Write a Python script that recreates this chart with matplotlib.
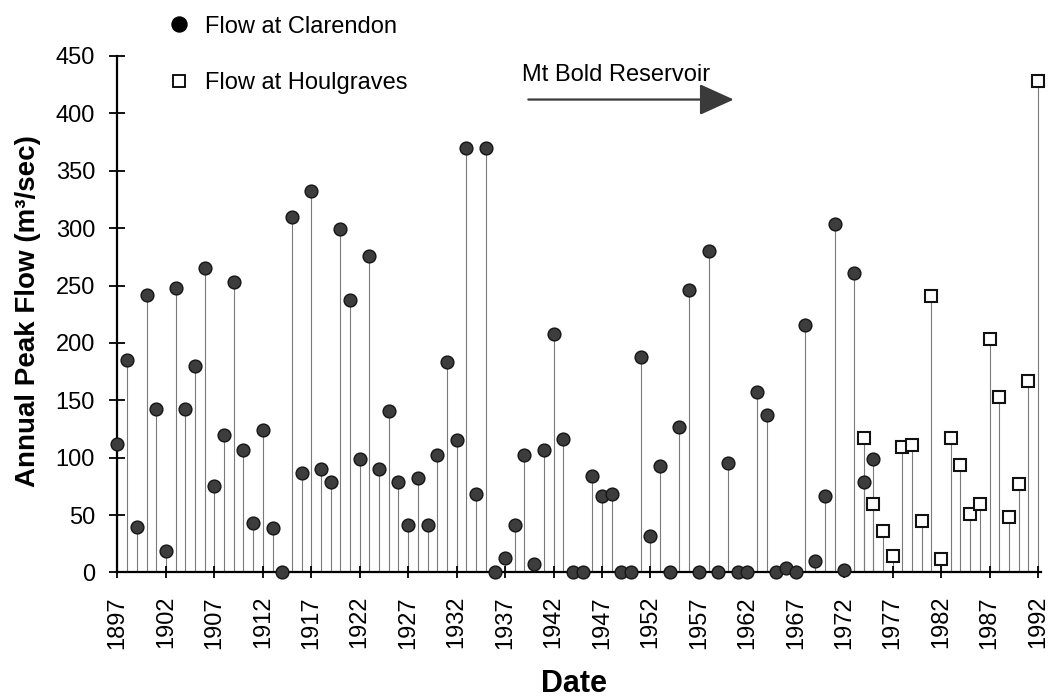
import matplotlib
matplotlib.use("Agg")
import matplotlib.pyplot as plt
from matplotlib.lines import Line2D

plt.rcParams["font.family"] = ["Liberation Sans", "DejaVu Sans"]

# Annual peak flow at Clarendon (m3/sec)
clarendon_years = list(range(1897, 1976))
clarendon_flow = [
    112, 185, 40, 242, 142, 19, 248, 142, 180, 265,   # 1897-1906
    75, 120, 253, 107, 43, 124, 39, 0, 310, 87,       # 1907-1916
    332, 90, 79, 299, 237, 99, 276, 90, 141, 79,      # 1917-1926
    41, 82, 41, 102, 183, 115, 370, 68, 370, 0,       # 1927-1936
    13, 41, 102, 7, 107, 208, 116, 0, 0, 84,          # 1937-1946
    67, 68, 0, 0, 188, 32, 93, 0, 127, 246,           # 1947-1956
    0, 280, 0, 95, 0, 0, 157, 137, 0, 4,              # 1957-1966
    0, 216, 10, 67, 304, 2, 261, 79, 99,              # 1967-1975
]

# Annual peak flow at Houlgraves (m3/sec)
houlgraves_years = list(range(1974, 1993))
houlgraves_flow = [
    117, 60, 36, 14, 109, 111, 45, 241, 12, 117,
    94, 51, 60, 203, 153, 48, 77, 167, 428,
]

x_tick_years = list(range(1897, 1993, 5))
y_ticks = list(range(0, 451, 50))

series_labels = ["Flow at Clarendon", "Flow at Houlgraves"]
reservoir_label = "Mt Bold Reservoir"
reservoir_span = (1939.4, 1960.6)
reservoir_level = 412

fig = plt.figure(figsize=(10.48, 6.99), dpi=100)
ax = fig.add_axes([0.1121, 0.181, 0.9937 - 0.1121, 0.92 - 0.181])

stem_color = "#7a7a7a"
ax.vlines(clarendon_years, 0, clarendon_flow, color=stem_color, lw=0.8, zorder=1)
ax.vlines(houlgraves_years, 0, houlgraves_flow, color=stem_color, lw=0.8, zorder=1)

ax.plot(clarendon_years, clarendon_flow, "o", ms=9.2, mfc="#3d3d3d", mec="#151515",
        mew=1.0, ls="none", clip_on=False, zorder=4)
ax.plot(houlgraves_years, houlgraves_flow, "s", ms=8.6, mfc="white", mec="#111111",
        mew=1.5, ls="none", clip_on=False, zorder=4)

ax.set_xlim(1897, 1992.35)
ax.set_ylim(0, 450)

for side in ("top", "right"):
    ax.spines[side].set_visible(False)
for side in ("left", "bottom"):
    ax.spines[side].set_linewidth(1.6)
    ax.spines[side].set_color("black")

ax.set_yticks(y_ticks)
ax.set_xticks(x_tick_years)
ax.set_xticklabels([str(y) for y in x_tick_years], rotation=90)
ax.tick_params(axis="y", direction="inout", length=12, width=1.3, pad=10.2, labelsize=17)
ax.tick_params(axis="x", direction="inout", length=8.6, width=1.3, pad=12.6, labelsize=17)

ax.set_ylabel("Annual Peak Flow (m³/sec)", fontsize=20, fontweight="bold", va="center")
ax.yaxis.set_label_coords(-0.0973, 0.506)
ax.set_xlabel("Date", fontsize=22, fontweight="bold", va="center")
ax.xaxis.set_label_coords(0.4946, -0.2159)

# Reservoir period arrow
ax.annotate("", xy=(reservoir_span[1], reservoir_level), xytext=(reservoir_span[0], reservoir_level),
            arrowprops=dict(arrowstyle="-|>,head_length=1.08,head_width=0.49",
                            color="#3a3a3a", lw=1.6, shrinkA=0, shrinkB=0, mutation_scale=20),
            annotation_clip=False)
ax.text(1938.7, 433.5, reservoir_label, fontsize=17, ha="left", va="center")

handles = [
    Line2D([], [], marker="o", ls="none", ms=10.8, mfc="black", mec="black"),
    Line2D([], [], marker="s", ls="none", ms=8.2, mfc="white", mec="black", mew=1.3),
]
fig.legend(handles, series_labels, loc="center left",
           bbox_to_anchor=(167 / 1048, 1 - 55 / 699), bbox_transform=fig.transFigure,
           frameon=False, fontsize=17, handlelength=1.0, handletextpad=0.6,
           labelspacing=1.47, borderpad=0, borderaxespad=0)

fig.savefig("out.png", dpi=100)
